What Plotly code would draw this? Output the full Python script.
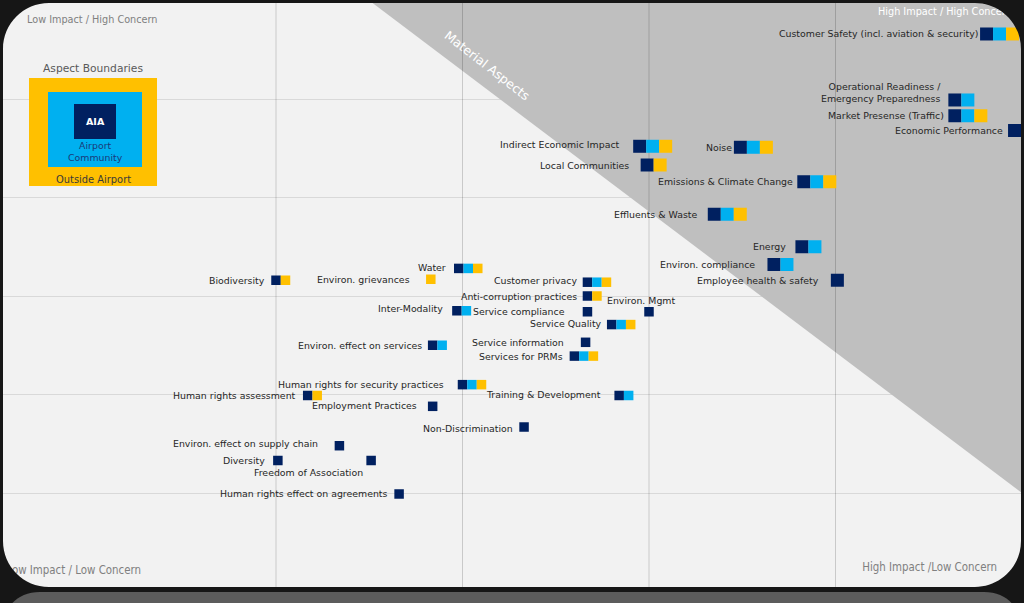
import plotly.graph_objects as go

# ---------------- data ----------------
aspects = [
    "Customer Safety (incl. aviation & security)",
    "Operational Readiness /<br>Emergency Preparedness",
    "Market Presense (Traffic)",
    "Economic Performance",
    "Indirect Economic Impact",
    "Noise",
    "Local Communities",
    "Emissions & Climate Change",
    "Effluents & Waste",
    "Energy",
    "Environ. compliance",
    "Employee health & safety",
    "Water",
    "Biodiversity",
    "Environ. grievances",
    "Customer privacy",
    "Anti-corruption practices",
    "Environ. Mgmt",
    "Inter-Modality",
    "Service compliance",
    "Service Quality",
    "Environ. effect on services",
    "Service information",
    "Services for PRMs",
    "Human rights for security practices",
    "Human rights assessment",
    "Training & Development",
    "Employment Practices",
    "Non-Discrimination",
    "Environ. effect on supply chain",
    "Diversity",
    "Freedom of Association",
    "Human rights effect on agreements",
]
impact = [4.81, 4.64, 4.64, 4.96, 2.95, 3.49, 2.99, 3.83, 3.35, 3.82, 3.67, 4.01,
          1.98, 1.00, 1.83, 2.67, 2.67, 3.00, 1.97, 2.67, 2.80, 1.84, 2.66, 2.60,
          2.00, 1.17, 2.84, 1.84, 2.33, 1.34, 1.01, 1.51, 1.66]
concern = [5.66, 4.99, 4.83, 4.68, 4.52, 4.51, 4.33, 4.16, 3.83, 3.50, 3.32, 3.16,
           3.28, 3.16, 3.17, 3.14, 3.00, 2.84, 2.85, 2.84, 2.71, 2.50, 2.53, 2.39,
           2.10, 1.99, 1.99, 1.88, 1.67, 1.48, 1.33, 1.33, 0.99]
# N = AIA, B = Airport Community, Y = Outside Airport
boundaries = ["NBY", "NB", "NBY", "N", "NBY", "NBY", "NY", "NBY", "NBY", "NB", "NB", "N",
              "NBY", "NY", "Y", "NBY", "NY", "N", "NB", "N", "NBY", "NB", "N", "NBY",
              "NBY", "NY", "NB", "N", "N", "N", "N", "N", "N"]
x_grid = [1, 2, 3, 4]
y_grid = [1, 2, 3, 4, 5]
material_line = [(1.5, 6.0), (5.0, 1.0)]

# ---------------- layout config ----------------
W, H = 1024, 603
X0, X1 = -89.5 / 186.5, (W - 89.5) / 186.5
Y0, Y1 = (591.5 - H) / 98.5, 591.5 / 98.5
PPX = W / (X1 - X0)
PPY = H / (Y1 - Y0)


def px2x(px):
    return X0 + px / PPX


def py2y(py):
    return Y1 - py / PPY


def pp(px, py):
    return f"{px / W:.5f},{1 - py / H:.5f}"


colors = {"N": "#002060", "B": "#00b0f0", "Y": "#ffc000"}
FONT = "DejaVu Sans, Verdana, sans-serif"
COND = "DejaVu Sans Condensed, Liberation Sans Narrow, sans-serif"
label_shift = {  # (gap px, dy px)
    0: (2, 0), 1: (7, -7), 2: (4, 0), 3: (5, 0), 4: (13, -2), 5: (2, 0), 6: (12, 0),
    7: (4, 0), 8: (11, 0), 9: (9, 0), 10: (12, 0), 11: (12, 0), 12: (8, -1), 13: (6, 0),
    14: (16, 0), 15: (6, -2), 16: (6, 0), 17: (-31, -11), 18: (9, -2), 19: (18, 0),
    20: (5, -1), 21: (6, 0), 22: (17, 0), 23: (7, 0), 24: (14, 0), 25: (7, 0),
    26: (13, -1), 27: (11, -1), 28: (6, 1), 29: (17, -2), 30: (8, 0), 31: (3, 12),
    32: (6, 0),
}

(lx0, ly0), (lx1, ly1) = material_line
slope = (ly1 - ly0) / (lx1 - lx0)


def is_material(x, y):
    return y > ly0 + slope * (x - lx0)


sizes = [13 if is_material(x, y) else 9.5 for x, y in zip(impact, concern)]

fig = go.Figure()

for code in "NBY":
    xs, ys, ss = [], [], []
    for x, y, b, s in zip(impact, concern, boundaries, sizes):
        k = 0
        for c in "NBY":
            if c in b:
                if c == code:
                    xs.append(x + k * s / PPX)
                    ys.append(y)
                    ss.append(s)
                k += 1
    fig.add_trace(go.Scatter(x=xs, y=ys, mode="markers", hoverinfo="skip",
                             marker=dict(symbol="square", size=ss, color=colors[code],
                                         opacity=1, line=dict(width=0))))

annotations = []
for i, (name, x, y, s) in enumerate(zip(aspects, impact, concern, sizes)):
    gap, dy = label_shift.get(i, (6, 0))
    annotations.append(dict(x=x, y=y, xref="x", yref="y", text=name, showarrow=False,
                            xanchor="right", yanchor="middle", align="right",
                            xshift=-(s / 2 + gap - 2), yshift=-dy,
                            font=dict(family=FONT, size=9.4, color="#262626")))

# corner texts that must be clipped by the frame -> trace text
fig.add_trace(go.Scatter(x=[px2x(878)], y=[py2y(13)], mode="text", hoverinfo="skip",
                         text=["High Impact / High Concern"], textposition="middle right",
                         textfont=dict(family=FONT, size=9.7, color="#ffffff")))
fig.add_trace(go.Scatter(x=[px2x(141)], y=[py2y(571)], mode="text", hoverinfo="skip",
                         text=["Low Impact / Low Concern"], textposition="middle left",
                         textfont=dict(family=COND, size=11.4, color="#808080")))
fig.add_trace(go.Scatter(x=[px2x(997)], y=[py2y(568)], mode="text", hoverinfo="skip",
                         text=["High Impact /Low Concern"], textposition="middle left",
                         textfont=dict(family=COND, size=11.4, color="#808080")))

annotations.append(dict(x=25 / W, y=1 - 20 / H, xref="paper", yref="paper",
                        text="Low Impact / High Concern", showarrow=False,
                        xanchor="left", yanchor="middle",
                        font=dict(family=FONT, size=9.7, color="#808080")))
annotations.append(dict(x=487 / W, y=1 - 66 / H, xref="paper", yref="paper",
                        text="Material Aspects", showarrow=False, textangle=38,
                        xanchor="center", yanchor="middle",
                        font=dict(family=FONT, size=12.5, color="#ffffff")))

shapes = []
# material triangle
tx_top = lx0 + (Y1 + 0.3 - ly0) / slope
ty_right = ly0 + slope * (X1 + 0.3 - lx0)
shapes.append(dict(type="path", xref="x", yref="y", layer="between",
                   path=f"M{tx_top},{Y1 + 0.3} L{X1 + 0.3},{Y1 + 0.3} L{X1 + 0.3},{ty_right} Z",
                   fillcolor="#bfbfbf", line=dict(width=0)))
for xv in x_grid:
    shapes.append(dict(type="line", xref="x", yref="y", layer="between",
                       x0=xv, x1=xv, y0=Y0, y1=Y1,
                       line=dict(color="rgba(0,0,0,0.17)", width=1)))

# frame mask (rounded rectangle)
fx0, fx1, fy0, fy1, r = 3, 1021, 3, 587, 46
k = 0.5523 * r
inner = (f"M{pp(fx0 + r, fy0)} L{pp(fx1 - r, fy0)} "
         f"C{pp(fx1 - r + k, fy0)} {pp(fx1, fy0 + r - k)} {pp(fx1, fy0 + r)} "
         f"L{pp(fx1, fy1 - r)} C{pp(fx1, fy1 - r + k)} {pp(fx1 - r + k, fy1)} {pp(fx1 - r, fy1)} "
         f"L{pp(fx0 + r, fy1)} C{pp(fx0 + r - k, fy1)} {pp(fx0, fy1 - r + k)} {pp(fx0, fy1 - r)} "
         f"L{pp(fx0, fy0 + r)} C{pp(fx0, fy0 + r - k)} {pp(fx0 + r - k, fy0)} {pp(fx0 + r, fy0)} Z")
outer = "M-0.02,-0.02 L1.02,-0.02 L1.02,1.02 L-0.02,1.02 Z "
shapes.append(dict(type="path", xref="paper", yref="paper", layer="above",
                   path=outer + inner, fillrule="evenodd",
                   fillcolor="#161616", line=dict(width=0)))
# reflection under the frame
shapes.append(dict(type="path", xref="paper", yref="paper", layer="above",
                   path=(f"M{pp(40, 592)} L{pp(984, 592)} C{pp(1000, 592)} {pp(1012, 600)} {pp(1016, 610)} "
                         f"L{pp(8, 610)} C{pp(12, 600)} {pp(24, 592)} {pp(40, 592)} Z"),
                   fillcolor="#5c5c5c", line=dict(width=0)))

# legend box
shapes.append(dict(type="rect", xref="paper", yref="paper", layer="above",
                   x0=29 / W, x1=157 / W, y0=1 - 186 / H, y1=1 - 78 / H,
                   fillcolor="#ffc000", line=dict(width=0)))
shapes.append(dict(type="rect", xref="paper", yref="paper", layer="above",
                   x0=48 / W, x1=142 / W, y0=1 - 167 / H, y1=1 - 92 / H,
                   fillcolor="#00b0f0", line=dict(width=0)))
shapes.append(dict(type="rect", xref="paper", yref="paper", layer="above",
                   x0=74 / W, x1=116 / W, y0=1 - 139 / H, y1=1 - 104 / H,
                   fillcolor="#002060", line=dict(width=0)))


def ptext(px, py, text, size, color, bold=False):
    return dict(x=px / W, y=1 - py / H, xref="paper", yref="paper", text=f"<b>{text}</b>" if bold else text,
                showarrow=False, xanchor="center", yanchor="middle",
                font=dict(family=FONT, size=size, color=color))


annotations += [
    ptext(93, 68, "Aspect Boundaries", 10.7, "#595959"),
    ptext(95, 122, "AIA", 9.5, "#ffffff", bold=True),
    ptext(95, 152, "Airport<br>Community", 9.4, "#1a3a7a"),
    ptext(93, 180, "Outside Airport", 9.9, "#3a3a3a"),
]

fig.update_layout(
    width=W, height=H, autosize=False,
    margin=dict(l=0, r=0, t=0, b=0, pad=0),
    paper_bgcolor="#161616", plot_bgcolor="#f2f2f2",
    showlegend=False,
    xaxis=dict(range=[X0, X1], showgrid=False, zeroline=False, showticklabels=False,
               showline=False, ticks="", fixedrange=True),
    yaxis=dict(range=[Y0, Y1], tickvals=y_grid, showgrid=True, gridcolor="#d9d9d9", gridwidth=1,
               zeroline=False, showticklabels=False, showline=False, ticks="", fixedrange=True),
    shapes=shapes,
    annotations=annotations,
)

fig.write_html("out.html", config={"displayModeBar": False})
